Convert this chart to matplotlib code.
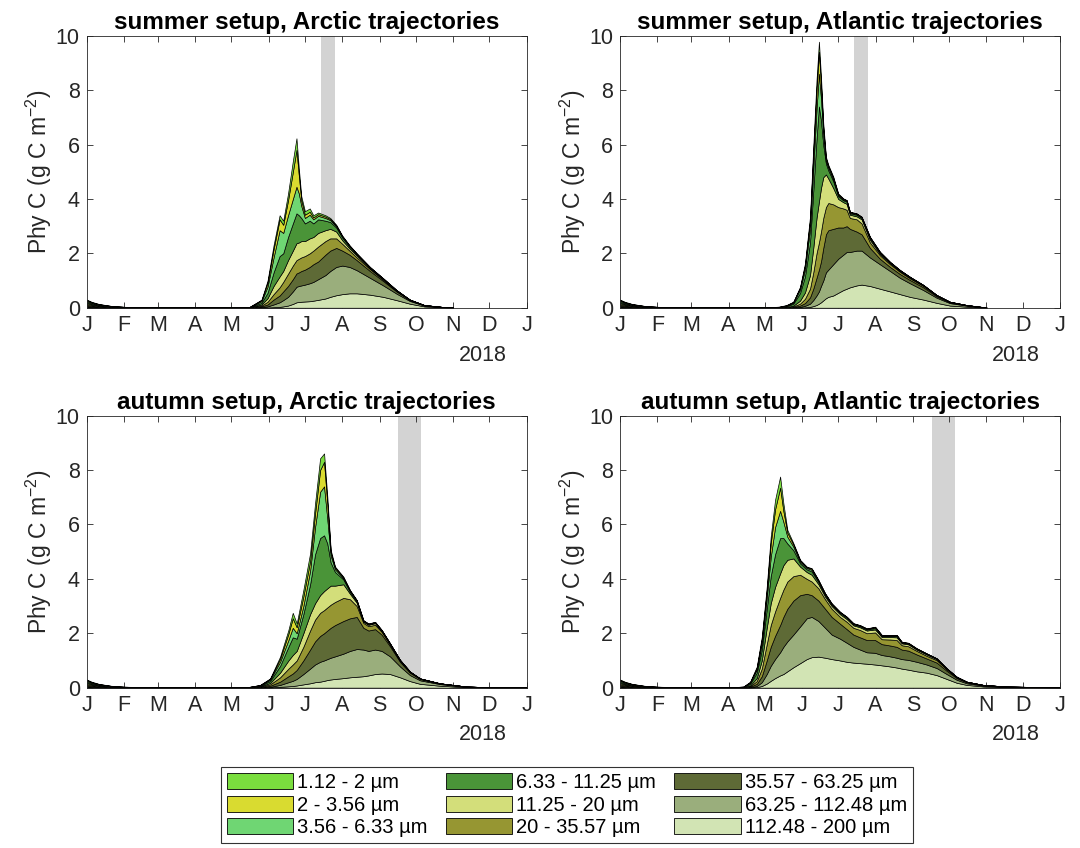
import numpy as np
import matplotlib.pyplot as plt
from matplotlib.patches import Patch

plt.rcParams['font.family'] = ['Liberation Sans', 'DejaVu Sans']
plt.rcParams['mathtext.fontset'] = 'custom'
plt.rcParams['mathtext.rm'] = 'Liberation Sans'
plt.rcParams['mathtext.it'] = 'Liberation Sans:italic'

# size classes, top of the stack first (legend order)
size_classes = ['1.12 - 2 µm', '2 - 3.56 µm', '3.56 - 6.33 µm',
                '6.33 - 11.25 µm', '11.25 - 20 µm', '20 - 35.57 µm',
                '35.57 - 63.25 µm', '63.25 - 112.48 µm', '112.48 - 200 µm']
class_colors = ['#7ade3e', '#d9db30', '#6fd673', '#4a9438', '#d3de7a',
                '#969632', '#5e6a36', '#9aae7c', '#d2e4b4']

month_letters = ['J', 'F', 'M', 'A', 'M', 'J', 'J', 'A', 'S', 'O', 'N', 'D', 'J']

# stacked tops (g C m-2), bottom class (112-200 µm) first, day of year 2018
jan_days = [0, 4, 10, 20, 31, 45, 60, 90]
jan_tops = [
    [0.02, 0.05, 0.09, 0.13, 0.17, 0.21, 0.25, 0.28, 0.30],
    [0.015, 0.035, 0.06, 0.09, 0.12, 0.15, 0.18, 0.20, 0.22],
    [0.01, 0.02, 0.04, 0.06, 0.08, 0.10, 0.12, 0.13, 0.14],
    [0.005, 0.01, 0.02, 0.03, 0.04, 0.05, 0.06, 0.065, 0.07],
    [0.003, 0.006, 0.01, 0.015, 0.02, 0.025, 0.03, 0.033, 0.035],
    [0.002, 0.004, 0.006, 0.008, 0.01, 0.013, 0.015, 0.017, 0.02],
    [0.001, 0.002, 0.003, 0.005, 0.006, 0.008, 0.009, 0.01, 0.012],
    [0.001, 0.002, 0.003, 0.004, 0.005, 0.006, 0.007, 0.008, 0.008],
]

# summer setup, Arctic trajectories
sarc_days = [120, 135, 145, 150, 155, 160, 163, 167, 171, 174, 176, 178, 181, 185,
             188, 192, 198, 202, 207, 212, 218, 224, 235, 246, 257, 268, 280, 295, 304]
sarc_tops = [
    [0.001, 0.002, 0.003, 0.004, 0.005, 0.006, 0.007, 0.008, 0.01],
    [0.002, 0.004, 0.008, 0.012, 0.016, 0.022, 0.026, 0.028, 0.03],
    [0.005, 0.02, 0.05, 0.08, 0.12, 0.18, 0.24, 0.28, 0.3],
    [0.01, 0.05, 0.12, 0.22, 0.35, 0.55, 0.78, 0.92, 1.0],
    [0.02, 0.12, 0.3, 0.5, 0.8, 1.3, 1.85, 2.15, 2.3],
    [0.03, 0.2, 0.45, 0.75, 1.15, 1.9, 2.85, 3.25, 3.4],
    [0.05, 0.28, 0.6, 0.95, 1.35, 2.0, 2.75, 3.05, 3.2],
    [0.08, 0.4, 0.8, 1.25, 1.75, 2.6, 3.4, 3.95, 4.2],
    [0.14, 0.6, 1.05, 1.55, 2.1, 3.1, 4.0, 5.0, 5.4],
    [0.2, 0.77, 1.26, 1.75, 2.37, 3.47, 4.45, 5.8, 6.23],
    [0.21, 0.8, 1.3, 1.8, 2.4, 3.4, 4.2, 4.85, 5.1],
    [0.22, 0.82, 1.35, 1.85, 2.45, 3.3, 3.75, 3.95, 4.1],
    [0.23, 0.85, 1.4, 1.9, 2.45, 3.1, 3.3, 3.42, 3.55],
    [0.24, 0.9, 1.5, 2.0, 2.55, 3.2, 3.42, 3.53, 3.65],
    [0.26, 0.95, 1.6, 2.1, 2.6, 3.1, 3.25, 3.32, 3.4],
    [0.29, 1.05, 1.7, 2.25, 2.75, 3.25, 3.38, 3.44, 3.5],
    [0.34, 1.2, 1.95, 2.45, 2.85, 3.2, 3.3, 3.35, 3.4],
    [0.4, 1.35, 2.1, 2.55, 2.9, 3.15, 3.22, 3.26, 3.3],
    [0.46, 1.5, 2.2, 2.55, 2.8, 2.95, 3.0, 3.02, 3.05],
    [0.5, 1.55, 2.1, 2.35, 2.48, 2.58, 2.61, 2.63, 2.65],
    [0.53, 1.5, 1.95, 2.1, 2.18, 2.24, 2.27, 2.28, 2.3],
    [0.53, 1.38, 1.75, 1.85, 1.92, 1.96, 1.98, 1.99, 2.0],
    [0.48, 1.1, 1.35, 1.42, 1.45, 1.47, 1.48, 1.49, 1.5],
    [0.4, 0.82, 0.98, 1.02, 1.05, 1.06, 1.07, 1.075, 1.08],
    [0.28, 0.52, 0.6, 0.62, 0.63, 0.64, 0.645, 0.648, 0.65],
    [0.15, 0.25, 0.28, 0.29, 0.295, 0.297, 0.298, 0.299, 0.3],
    [0.05, 0.08, 0.09, 0.095, 0.097, 0.098, 0.099, 0.0995, 0.1],
    [0.015, 0.024, 0.027, 0.028, 0.029, 0.0295, 0.0297, 0.0299, 0.03],
    [0.003, 0.005, 0.006, 0.007, 0.008, 0.008, 0.009, 0.009, 0.01],
]

# summer setup, Atlantic trajectories
satl_days = [120, 132, 138, 143.7, 149.3, 153.4, 157.6, 160.3, 163, 165, 166.7, 168.6,
             170.8, 172.8, 176.9, 181, 185.2, 188, 190.7, 196.3, 200.4, 207.3, 215.6,
             224, 232.2, 240.5, 251.6, 262.6, 273.7, 287.5, 304]
satl_tops = [
    [0.001, 0.002, 0.003, 0.004, 0.005, 0.006, 0.007, 0.008, 0.01],
    [0.002, 0.004, 0.007, 0.01, 0.015, 0.025, 0.03, 0.035, 0.04],
    [0.002, 0.005, 0.01, 0.015, 0.025, 0.05, 0.07, 0.085, 0.1],
    [0.003, 0.01, 0.025, 0.045, 0.075, 0.15, 0.19, 0.21, 0.22],
    [0.008, 0.03, 0.08, 0.15, 0.26, 0.54, 0.66, 0.73, 0.77],
    [0.015, 0.07, 0.17, 0.33, 0.56, 1.15, 1.4, 1.55, 1.63],
    [0.03, 0.15, 0.38, 0.7, 1.2, 2.4, 2.9, 3.2, 3.35],
    [0.06, 0.28, 0.7, 1.3, 2.2, 4.3, 5.1, 5.65, 5.92],
    [0.1, 0.45, 1.1, 2.0, 3.3, 6.2, 7.3, 8.0, 8.37],
    [0.15, 0.6, 1.4, 2.4, 3.9, 7.4, 8.6, 9.4, 9.78],
    [0.2, 0.8, 1.7, 2.8, 4.4, 6.9, 7.7, 8.2, 8.5],
    [0.27, 1.0, 2.2, 3.3, 4.8, 6.0, 6.4, 6.6, 6.78],
    [0.35, 1.3, 2.7, 3.7, 4.9, 5.3, 5.4, 5.48, 5.55],
    [0.4, 1.4, 2.85, 3.85, 4.75, 5.05, 5.15, 5.2, 5.25],
    [0.45, 1.6, 2.9, 3.8, 4.4, 4.65, 4.72, 4.77, 4.82],
    [0.55, 1.8, 2.95, 3.7, 4.0, 4.1, 4.14, 4.17, 4.2],
    [0.65, 1.95, 2.95, 3.65, 3.88, 3.95, 3.98, 4.0, 4.02],
    [0.7, 2.05, 3.0, 3.6, 3.82, 3.9, 3.93, 3.95, 3.96],
    [0.75, 2.05, 2.9, 3.3, 3.42, 3.47, 3.5, 3.52, 3.53],
    [0.82, 2.1, 2.8, 3.25, 3.36, 3.42, 3.44, 3.46, 3.47],
    [0.85, 2.1, 2.7, 3.1, 3.25, 3.3, 3.32, 3.34, 3.35],
    [0.8, 1.85, 2.2, 2.4, 2.5, 2.56, 2.58, 2.6, 2.61],
    [0.7, 1.6, 1.8, 1.93, 1.98, 2.02, 2.04, 2.05, 2.06],
    [0.6, 1.35, 1.5, 1.6, 1.64, 1.66, 1.67, 1.68, 1.69],
    [0.5, 1.1, 1.24, 1.32, 1.35, 1.37, 1.38, 1.385, 1.39],
    [0.4, 0.9, 1.02, 1.08, 1.11, 1.12, 1.13, 1.135, 1.14],
    [0.3, 0.65, 0.75, 0.8, 0.82, 0.83, 0.835, 0.838, 0.84],
    [0.18, 0.37, 0.42, 0.45, 0.46, 0.465, 0.467, 0.469, 0.47],
    [0.08, 0.17, 0.2, 0.21, 0.215, 0.217, 0.218, 0.219, 0.22],
    [0.04, 0.08, 0.09, 0.095, 0.097, 0.098, 0.099, 0.0995, 0.1],
    [0.002, 0.004, 0.005, 0.006, 0.007, 0.007, 0.008, 0.008, 0.008],
]

# autumn setup, Arctic trajectories
aarc_days = [120, 135, 143.8, 152.1, 160.4, 167.3, 170.9, 174.2, 179.7, 185.3, 189.4,
             193.6, 196.9, 199.6, 202.4, 206, 212.9, 218.4, 224, 229.5, 233.7, 239.2,
             244.7, 251.6, 259.9, 268.2, 276.5, 293, 315, 340, 365]
aarc_tops = [
    [0.001, 0.002, 0.003, 0.004, 0.005, 0.006, 0.007, 0.008, 0.01],
    [0.002, 0.004, 0.008, 0.012, 0.016, 0.022, 0.026, 0.028, 0.03],
    [0.003, 0.01, 0.02, 0.035, 0.05, 0.07, 0.085, 0.095, 0.1],
    [0.01, 0.03, 0.07, 0.12, 0.17, 0.24, 0.29, 0.32, 0.34],
    [0.03, 0.1, 0.22, 0.38, 0.55, 0.8, 0.95, 1.06, 1.14],
    [0.05, 0.2, 0.42, 0.7, 1.0, 1.5, 1.75, 1.98, 2.12],
    [0.06, 0.25, 0.52, 0.85, 1.2, 1.85, 2.2, 2.55, 2.75],
    [0.08, 0.32, 0.65, 1.0, 1.35, 1.8, 2.0, 2.22, 2.36],
    [0.12, 0.5, 1.0, 1.5, 2.0, 2.7, 3.0, 3.35, 3.59],
    [0.16, 0.7, 1.4, 2.1, 2.7, 3.8, 4.3, 4.65, 4.94],
    [0.2, 0.85, 1.7, 2.5, 3.1, 4.9, 5.9, 6.4, 6.77],
    [0.22, 0.95, 1.9, 2.75, 3.4, 5.5, 7.2, 8.0, 8.43],
    [0.25, 1.0, 2.0, 2.85, 3.55, 5.6, 7.4, 8.3, 8.61],
    [0.28, 1.05, 2.1, 2.95, 3.65, 5.3, 6.2, 6.75, 7.02],
    [0.3, 1.1, 2.2, 3.05, 3.75, 4.6, 4.85, 4.97, 5.06],
    [0.32, 1.15, 2.3, 3.15, 3.75, 4.25, 4.35, 4.41, 4.45],
    [0.35, 1.25, 2.45, 3.3, 3.8, 3.98, 4.02, 4.05, 4.08],
    [0.38, 1.35, 2.55, 3.25, 3.45, 3.52, 3.55, 3.57, 3.59],
    [0.4, 1.42, 2.6, 3.0, 3.12, 3.17, 3.19, 3.21, 3.22],
    [0.42, 1.4, 2.2, 2.38, 2.43, 2.45, 2.46, 2.47, 2.48],
    [0.45, 1.35, 2.1, 2.26, 2.31, 2.33, 2.34, 2.35, 2.36],
    [0.5, 1.4, 2.15, 2.31, 2.37, 2.39, 2.4, 2.41, 2.42],
    [0.52, 1.35, 1.95, 2.05, 2.08, 2.1, 2.11, 2.115, 2.12],
    [0.5, 1.15, 1.52, 1.58, 1.6, 1.615, 1.62, 1.625, 1.63],
    [0.38, 0.78, 0.95, 0.99, 1.0, 1.01, 1.015, 1.018, 1.02],
    [0.24, 0.46, 0.55, 0.57, 0.58, 0.585, 0.587, 0.589, 0.59],
    [0.14, 0.27, 0.32, 0.33, 0.335, 0.337, 0.338, 0.339, 0.34],
    [0.07, 0.13, 0.15, 0.155, 0.157, 0.158, 0.159, 0.1595, 0.16],
    [0.018, 0.032, 0.037, 0.038, 0.039, 0.0395, 0.0397, 0.0399, 0.04],
    [0.005, 0.008, 0.009, 0.0095, 0.0097, 0.0098, 0.0099, 0.0099, 0.01],
    [0.002, 0.003, 0.004, 0.004, 0.0045, 0.0046, 0.0047, 0.0048, 0.005],
]

# autumn setup, Atlantic trajectories
aatl_days = [102.3, 107.9, 113.4, 117.6, 121.7, 125, 128.6, 132.8, 135.5, 138.8, 143.8,
             149.4, 154.9, 159, 164.6, 170.1, 175.6, 182.5, 188.1, 193.6, 199.1, 204.7,
             211.6, 217.1, 224, 229.5, 233.7, 239.2, 246.1, 254.4, 262.7, 271, 279.3,
             287.6, 301.4, 320.8, 365]
aatl_tops = [
    [0.001, 0.003, 0.006, 0.01, 0.015, 0.025, 0.032, 0.037, 0.04],
    [0.005, 0.015, 0.03, 0.05, 0.08, 0.14, 0.18, 0.2, 0.22],
    [0.02, 0.06, 0.14, 0.24, 0.35, 0.55, 0.66, 0.72, 0.77],
    [0.06, 0.2, 0.42, 0.7, 1.0, 1.4, 1.62, 1.77, 1.87],
    [0.15, 0.5, 1.0, 1.6, 2.2, 2.9, 3.3, 3.55, 3.71],
    [0.25, 0.8, 1.5, 2.3, 3.1, 4.1, 4.8, 5.3, 5.55],
    [0.35, 1.05, 1.9, 2.8, 3.7, 4.9, 5.9, 6.55, 6.9],
    [0.45, 1.3, 2.3, 3.3, 4.2, 5.5, 6.5, 7.35, 7.76],
    [0.5, 1.5, 2.6, 3.6, 4.5, 5.5, 6.1, 6.5, 6.78],
    [0.6, 1.7, 2.9, 3.9, 4.7, 5.3, 5.55, 5.7, 5.8],
    [0.75, 1.95, 3.2, 4.1, 4.75, 5.05, 5.18, 5.26, 5.31],
    [0.9, 2.25, 3.4, 4.15, 4.45, 4.57, 4.63, 4.67, 4.7],
    [1.05, 2.55, 3.45, 4.0, 4.25, 4.35, 4.4, 4.43, 4.45],
    [1.12, 2.6, 3.4, 3.9, 4.15, 4.27, 4.33, 4.37, 4.39],
    [1.14, 2.45, 3.2, 3.65, 3.8, 3.88, 3.92, 3.94, 3.96],
    [1.1, 2.2, 2.9, 3.25, 3.35, 3.41, 3.44, 3.46, 3.47],
    [1.05, 1.95, 2.6, 2.9, 3.0, 3.05, 3.07, 3.09, 3.1],
    [1.0, 1.8, 2.35, 2.6, 2.7, 2.75, 2.77, 2.78, 2.79],
    [0.95, 1.65, 2.15, 2.42, 2.52, 2.57, 2.59, 2.6, 2.61],
    [0.92, 1.5, 1.95, 2.2, 2.29, 2.33, 2.35, 2.36, 2.37],
    [0.9, 1.4, 1.85, 2.12, 2.22, 2.26, 2.28, 2.29, 2.3],
    [0.88, 1.3, 1.75, 2.0, 2.1, 2.14, 2.16, 2.17, 2.18],
    [0.85, 1.28, 1.75, 2.03, 2.14, 2.19, 2.21, 2.23, 2.24],
    [0.82, 1.2, 1.6, 1.78, 1.86, 1.9, 1.92, 1.93, 1.94],
    [0.78, 1.15, 1.55, 1.77, 1.86, 1.9, 1.92, 1.93, 1.94],
    [0.74, 1.1, 1.5, 1.75, 1.85, 1.9, 1.92, 1.93, 1.94],
    [0.7, 1.05, 1.4, 1.56, 1.63, 1.66, 1.67, 1.68, 1.69],
    [0.66, 1.02, 1.36, 1.52, 1.59, 1.62, 1.63, 1.64, 1.65],
    [0.6, 0.95, 1.22, 1.35, 1.4, 1.42, 1.43, 1.44, 1.45],
    [0.55, 0.85, 1.07, 1.17, 1.22, 1.24, 1.25, 1.255, 1.26],
    [0.46, 0.72, 0.92, 1.01, 1.05, 1.065, 1.07, 1.075, 1.08],
    [0.32, 0.5, 0.62, 0.67, 0.69, 0.7, 0.705, 0.708, 0.71],
    [0.18, 0.29, 0.35, 0.38, 0.39, 0.395, 0.397, 0.399, 0.4],
    [0.1, 0.16, 0.2, 0.21, 0.215, 0.217, 0.218, 0.219, 0.22],
    [0.045, 0.075, 0.09, 0.095, 0.097, 0.098, 0.099, 0.0995, 0.1],
    [0.018, 0.03, 0.036, 0.038, 0.039, 0.0395, 0.0397, 0.0399, 0.04],
    [0.004, 0.007, 0.008, 0.009, 0.0095, 0.0097, 0.0098, 0.0099, 0.01],
]

# sampling periods (grey bars), day of year
summer_span = [194.5, 206]
autumn_span = [258.5, 277.5]

titles = ['summer setup, Arctic trajectories', 'summer setup, Atlantic trajectories',
          'autumn setup, Arctic trajectories', 'autumn setup, Atlantic trajectories']

axis_col = '#262626'


def draw_panel(ax, days, tops, span, title):
    x = np.array(jan_days + days, dtype=float)
    t = np.array(jan_tops + tops)
    ax.axvspan(span[0], span[1], color='#d3d3d3', lw=0, zorder=0)
    fill_cols = class_colors[::-1]
    lower = np.zeros(len(x))
    for k in range(t.shape[1]):
        ax.fill_between(x, lower, t[:, k], facecolor=fill_cols[k], edgecolor='k',
                        linewidth=0.5, zorder=2)
        lower = t[:, k]

    month_pos = (np.arange('2018-01', '2019-02', dtype='datetime64[M]').astype('datetime64[D]')
                 - np.datetime64('2018-01-01')).astype(int)
    ax.set_xlim(0, 365)
    ax.set_ylim(0, 10)
    ax.set_xticks(month_pos)
    ax.set_xticklabels(month_letters)
    ax.set_yticks([0, 2, 4, 6, 8, 10])
    ax.tick_params(direction='in', top=True, right=True, length=4, width=0.6,
                   labelsize=15.5, colors=axis_col, pad=5)
    for s in ax.spines.values():
        s.set_color(axis_col)
        s.set_linewidth(0.6)
    ax.set_title(title, fontsize=17.5, fontweight='bold', pad=5)
    ax.set_ylabel('Phy C (g C m$^{-2}$)', fontsize=16.5, color=axis_col, labelpad=1)
    ax.text(0.955, -0.174, '2018', transform=ax.transAxes, ha='right', va='center',
            fontsize=15.5, color=axis_col)


fig = plt.figure(figsize=(10.8, 8.48), dpi=100)
positions = [[0.0803, 0.6371, 0.4074, 0.3208], [0.5741, 0.6371, 0.4074, 0.3208],
             [0.0803, 0.1891, 0.4074, 0.3208], [0.5741, 0.1891, 0.4074, 0.3208]]
panels = [(sarc_days, sarc_tops, summer_span), (satl_days, satl_tops, summer_span),
          (aarc_days, aarc_tops, autumn_span), (aatl_days, aatl_tops, autumn_span)]

for pos, (d, t, sp), ttl in zip(positions, panels, titles):
    ax = fig.add_axes(pos)
    draw_panel(ax, d, t, sp, ttl)

handles = [Patch(facecolor=c, edgecolor='k', linewidth=0.6, label=l)
           for c, l in zip(class_colors, size_classes)]
leg = fig.legend(handles=handles, ncol=3, loc='center', bbox_to_anchor=(0.525, 0.0507),
                 frameon=True, fancybox=False, edgecolor='k', fontsize=14.5,
                 handlelength=3.3, handleheight=0.85, handletextpad=0.2,
                 columnspacing=0.9, labelspacing=0.18, borderpad=0.3)
leg.get_frame().set_linewidth(0.8)

fig.savefig('out.png', dpi=100)
